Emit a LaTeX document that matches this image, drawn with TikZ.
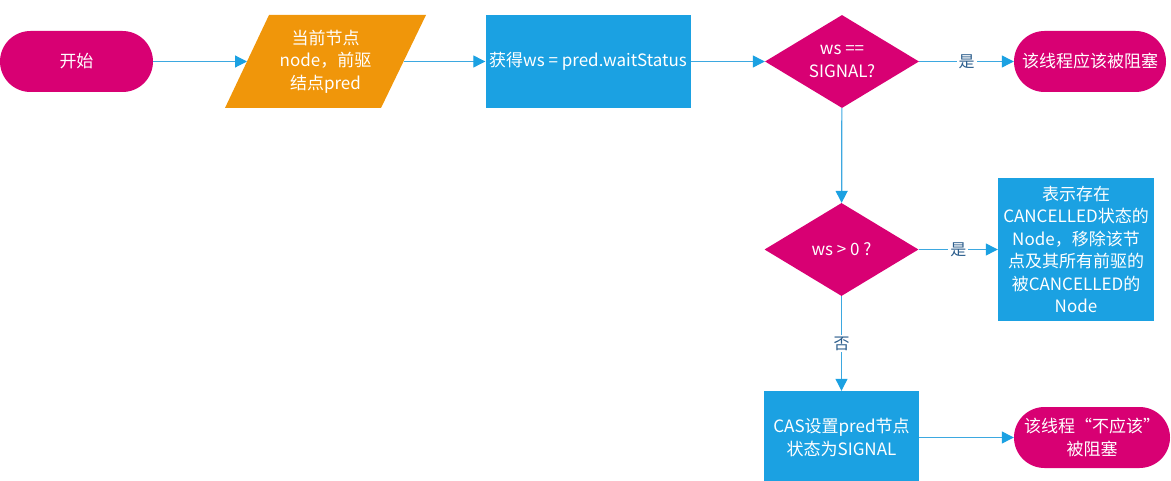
\documentclass[tikz,border=0pt]{standalone}
\usepackage{fontspec}
\setmainfont{Noto Sans CJK SC}
\usetikzlibrary{shapes.geometric,arrows.meta}
\definecolor{flowpink}{HTML}{D80073}
\definecolor{floworange}{HTML}{F0960A}
\definecolor{flowblue}{HTML}{1BA1E2}
\definecolor{flowline}{HTML}{3DA8E0}
\definecolor{flowlabel}{HTML}{2B5D8C}

\begin{document}
\begin{tikzpicture}
    [x=1pt, y=-1pt,
    every node/.style={text=white, font=\fontsize{17}{22.5}\selectfont, align=center, inner sep=0pt},
    terminal/.style={fill=flowpink, rectangle, rounded corners=30.5pt, minimum height=61pt},
    process/.style={fill=flowblue, rectangle},
    decision/.style={fill=flowpink, diamond, shape aspect=1.65, minimum width=154pt, minimum height=93pt},
    flow/.style={draw=flowline, line width=1.2pt, -{Triangle[length=12pt,width=12pt,color=flowblue]}},
    answer/.style={fill=white, text=flowlabel, inner sep=2pt, font=\fontsize{16}{16}\selectfont}]
    \useasboundingbox (0,0) rectangle (1171,481);
    \fill[floworange] (269,15) -- (426,15) -- (381,108) -- (225,108) -- cycle;
    \coordinate (cur-in) at (247,61.5);
    \coordinate (cur-out) at (403.5,61.5);
    \node[terminal, minimum width=153pt] (start) at (76.5,61.5) {开始};
    \node (cur) at (325.5,61.5) {当前节点\\node，前驱\\结点pred};
    \node[process, minimum width=205pt, minimum height=93pt] (getws) at (588,61.5) {获得ws = pred.waitStatus};
    \node[decision] (sig) at (842,61.5) {ws ==\\SIGNAL?};
    \node[terminal, minimum width=152pt] (block) at (1090,61.5) {该线程应该被阻塞};
    \node[decision] (pos) at (841.5,249.5) {ws > 0 ?};
    \node[process, minimum width=156pt, minimum height=143pt] (cancel) at (1076,249.5)
      {表示存在\\CANCELLED状态的\\Node，移除该节\\点及其所有前驱的\\被CANCELLED的\\Node};
    \node[process, minimum width=155pt, minimum height=93pt] (cas) at (841.5,437.5) {CAS设置pred节点\\状态为SIGNAL};
    \node[terminal, minimum width=156pt] (noblock) at (1092,437.5) {该线程“不应该”\\被阻塞};
    \draw[flow] (start) -- (cur-in);
    \draw[flow] (cur-out) -- (getws);
    \draw[flow] (getws) -- (sig);
    \draw[flow] (sig) -- node[answer] {是} (block);
    \draw[flow] (sig) -- (pos);
    \draw[flow] (pos) -- node[answer] {是} (cancel);
    \draw[flow] (pos) -- node[answer] {否} (cas);
    \draw[flow] (cas) -- (noblock);
  \end{tikzpicture}
\end{document}
